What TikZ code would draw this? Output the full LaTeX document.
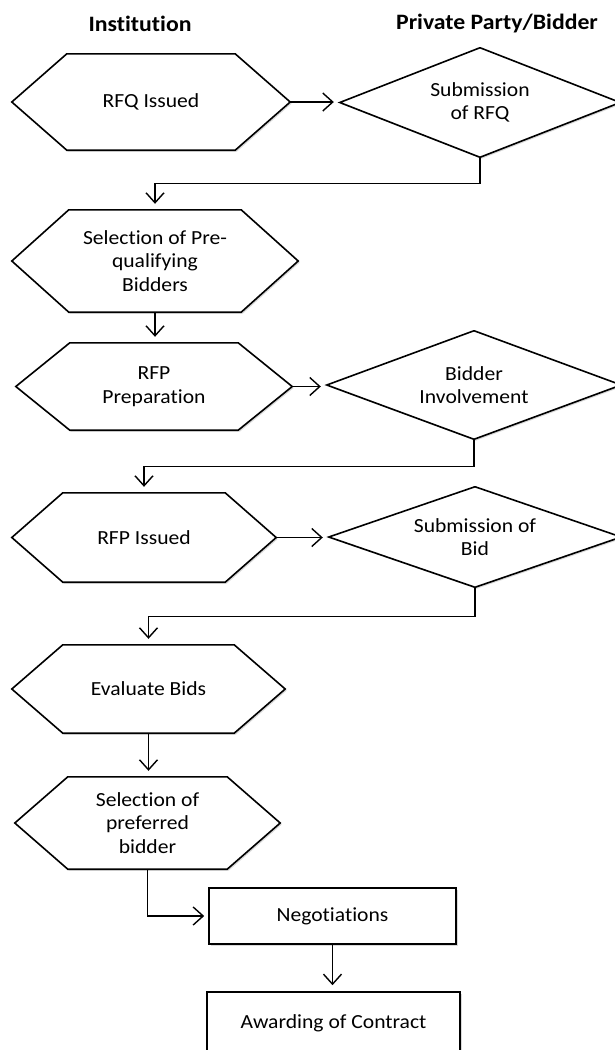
\documentclass[tikz,border=0pt]{standalone}
\usepackage{fontspec}
\setmainfont{Carlito}[FakeStretch=1.08, Ligatures=NoCommon, RawFeature=-clig]
\usetikzlibrary{arrows.meta,shadows,backgrounds}

% outline round a (rectangular) node: name, inset of the pointed ends
% (inset = half the width gives a diamond)
\newcommand{\hexframe}[2]{%
  \draw[frame] (#1.west) -- ([xshift=#2pt]#1.north west) -- ([xshift=-#2pt]#1.north east)
    -- (#1.east) -- ([xshift=-#2pt]#1.south east) -- ([xshift=#2pt]#1.south west) -- cycle;}

\tikzset{
  txt/.style={font=\fontsize{20}{23.5}\selectfont, align=center},
  head/.style={font=\fontsize{22}{26}\selectfont\bfseries},
  shade/.style={drop shadow={shadow xshift=1.5pt, shadow yshift=-1.5pt, opacity=.3, fill=black!50}},
  frame/.style={draw, line width=1.6pt, line join=miter, fill=white, shade},
  hexa/.style 2 args={txt, rectangle, inner sep=0pt, minimum width=#1pt, minimum height=#2pt},
  procbox/.style 2 args={txt, rectangle, frame, inner sep=0pt, minimum width=#1pt, minimum height=#2pt},
  arr/.style={-{Straight Barb[length=10pt,width=18pt]}, line width=1.4pt, shorten >=6pt}
}

\begin{document}
\begin{tikzpicture}[x=1pt, y=-1pt]
  % Rajataan kuva (614 x 1050)
  \useasboundingbox (0,0) rectangle (614,1050);
  \clip (0,0) rectangle (614,1050);

  % Otsikot
  \node[head] (inst) at (140,24) {Institution};
  \node[head] (priv) at (497,24) {Private Party/Bidder};

  % Instituution vaiheet (kuusikulmiot)
  \node[hexa={278}{96}]  (rfq)   at (151,102)   {RFQ Issued};
  \node[hexa={286}{102}] (presel) at (155,261)  {Selection of Pre-\\qualifying\\Bidders};
  \node[hexa={276}{87}]  (rfpprep) at (154,386.5) {RFP\\Preparation};
  \node[hexa={264}{89}]  (rfpiss) at (144,537.5) {RFP Issued};
  \node[hexa={273}{88}]  (evalb) at (148.5,689) {Evaluate Bids};
  \node[hexa={265}{92}]  (prefb) at (147.5,823) {Selection of\\preferred\\bidder};

  % Tarjoajan vaiheet (vinoneliot)
  \node[hexa={280}{109}] (subrfq) at (480,102.5) {Submission\\of RFQ};
  \node[hexa={294}{108}] (invol) at (474,385) {Bidder\\Involvement};
  \node[hexa={292}{100}] (subbid) at (475,537) {Submission of\\Bid};

  \begin{scope}[on background layer]
    \hexframe{rfq}{55}
    \hexframe{presel}{57}
    \hexframe{rfpprep}{54}
    \hexframe{rfpiss}{51}
    \hexframe{evalb}{51}
    \hexframe{prefb}{53}
    \hexframe{subrfq}{140}
    \hexframe{invol}{147}
    \hexframe{subbid}{146}
  \end{scope}

  % Loppuvaiheet
  \node[procbox={247}{56}] (negot) at (332.5,916) {Negotiations};
  \node[procbox={253}{62}] (award) at (333.5,1023) {Awarding of Contract};

  % Nuolet
  \draw[arr] (rfq.east) -- (rfq.east -| subrfq.west);
  \draw[arr] (subrfq.south) -- ++(0,26) -| (presel.north);
  \draw[arr] (presel.south) -- (presel.south |- rfpprep.north);
  \draw[arr] (rfpprep.east) -- (rfpprep.east -| invol.west);
  \draw[arr] (invol.south) -- ++(0,27) -| (rfpiss.north);
  \draw[arr] (rfpiss.east) -- (rfpiss.east -| subbid.west);
  \draw[arr] (subbid.south) -- ++(0,29) -| (evalb.north);
  \draw[arr] (evalb.south) -- (evalb.south |- prefb.north);
  \draw[arr, shorten >=4pt] (prefb.south) |- (negot.west);
  \draw[arr] (negot.south) -- (negot.south |- award.north);
\end{tikzpicture}
\end{document}
